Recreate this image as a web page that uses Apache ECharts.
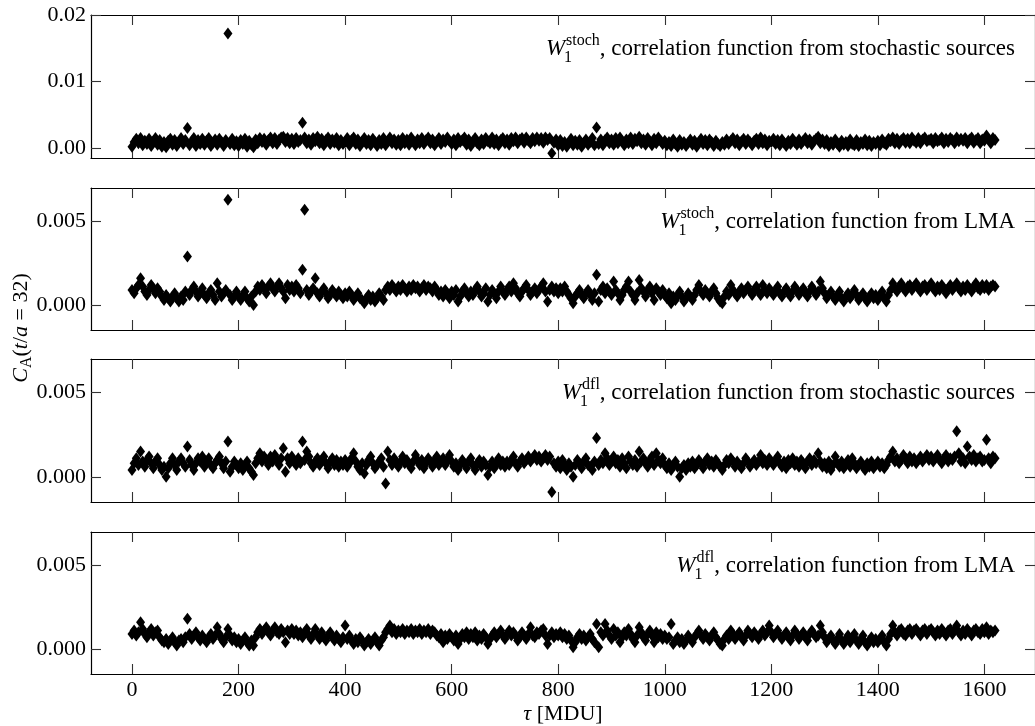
<!DOCTYPE html>
<html>
<head>
<meta charset="utf-8">
<script src="https://cdn.jsdelivr.net/npm/echarts@6/dist/echarts.min.js"></script>
<style>
  html, body { margin: 0; padding: 0; background: #fff; }
  #chart { width: 1035px; height: 726px; }
</style>
</head>
<body>
<div id="chart"></div>
<script>
// Pion correlator C_A(t/a = 32) along the Monte Carlo history.
// One value every 4 MDU, starting at tau = 0; values in units of 1e-4.
const tauStep = 4;

// W_1^stoch, correlation function from stochastic sources
const srcStoch = [
  2,9,14,7,15, 4,11,6,14,3, 10,15,5,12,2, 9,1,11,14,5, 12,3,9,15,6,
  12,30,4,10,15, 3,12,6,14,5, 11,15,3,8,13, 5,14,9,3,12, 172,6,14,4,10,
  3,12,6,14,2, 11,5,1,13,7, 15,9,14,5,12, 16,7,15,6,13, 16,17,9,15,7,
  14,6,15,9,12, 38,16,7,13,5, 15,10,17,7,14, 4,12,16,6,13, 8,15,4,12,6,
  9,15,4,12,16, 6,13,3,10,15, 6,12,4,14,9, 3,12,6,15,4, 10,16,7,13,5,
  12,4,15,7,13, 5,16,10,4,13, 7,15,6,12,16, 7,13,4,10,15, 6,13,9,16,10,
  6,13,4,15,9, 12,16,5,13,3, 10,15,7,4,13, 6,15,10,7,16, 6,13,4,12,15,
  7,13,5,15,10, 16,7,13,15,8, 16,11,7,15,10, 16,11,15,8,16, 12,15,-8,8,13,
  4,12,3,9,2, 8,14,4,11,5, 12,2,8,13,5, 9,15,4,31,6, 13,4,12,16,7,
  13,5,15,7,16, 10,4,13,7,16, 6,14,10,17,7, 13,5,15,10,4, 14,7,16,11,6,
  11,4,9,3,13, 6,2,12,5,9, 3,8,13,5,11, 2,9,14,6,12, 4,13,9,3,11,
  6,3,9,5,13, 6,11,15,7,13, 4,10,14,6,13, 9,4,11,14,6, 16,7,13,4,11,
  9,14,6,12,4, 13,8,3,11,6, 14,9,5,13,6, 11,15,7,13,5, 11,14,17,7,13,
  6,12,3,9,5, 13,6,2,11,5, 9,3,13,6,4, 12,3,9,6,13, 4,11,3,9,6,
  11,4,13,7,5, 14,10,16,7,14, 6,12,15,8,14, 7,16,11,8,15, 7,13,16,10,12,
  14,7,15,10,12, 16,7,14,9,15, 12,7,16,10,14, 11,15,7,13,16, 8,12,15,7,13,
  11,19,13,7,15,12
];

// W_1^stoch, correlation function from LMA
const lmaStoch = [
  9,7,10,12,16, 11,8,6,9,12, 10,7,10,8,5, 3,6,4,2,5, 7,4,2,5,3,
  8,29,6,9,11, 8,5,7,10,6, 4,7,9,6,3, 13,8,5,7,9, 63,6,3,5,8,
  5,3,6,8,4, 2,5,0,8,11, 9,12,10,7,11, 13,10,8,11,13, 10,8,4,12,9,
  11,8,12,10,7, 21,57,9,6,8, 10,16,7,5,8, 10,7,4,6,9, 7,5,8,6,4,
  7,5,8,6,3, 5,7,4,3,1, 4,6,3,5,2, 4,7,5,3,9, 11,9,12,10,8,
  11,9,12,10,8, 11,9,12,10,11, 8,10,12,9,11, 10,8,11,9,6, 8,5,9,7,4,
  8,6,9,2,5, 8,10,7,5,8, 6,9,11,8,5, 7,10,2,6,9, 7,4,8,11,8,
  6,9,11,8,13, 10,7,5,8,10, 12,9,6,8,10, 7,9,11,13,8, 2,9,11,8,10,
  7,10,8,11,8, 6,4,1,5,7, 9,6,4,7,9, 6,3,7,18,2, 9,11,7,10,8,
  6,14,9,7,3, 6,9,11,14,8, 6,3,7,15,10, 8,5,9,11,7, 3,10,8,6,9,
  6,4,7,1,5, 3,6,8,5,2, 4,7,5,3,6, 9,12,8,6,9, 7,5,8,10,7,
  4,2,1,5,8, 6,12,9,7,5, 8,10,7,9,11, 8,6,9,11,8, 6,12,9,7,10,
  8,6,9,11,7, 5,8,10,7,5, 8,11,9,6,8, 10,7,5,8,11, 9,6,8,14,10,
  7,4,6,8,5, 3,6,8,4,2, 5,7,4,6,9, 6,3,5,7,4, 2,5,7,4,6,
  3,6,8,4,2, 6,9,13,10,8, 11,13,10,8,11, 12,9,11,13,10, 8,11,12,9,11,
  13,10,8,11,9, 12,10,7,10,12, 9,11,13,10,8, 11,9,12,10,8, 11,13,10,9,12,
  10,12,9,11,12,11
];

// W_1^dfl, correlation function from stochastic sources
const srcDfl = [
  4,8,11,7,15, 9,6,10,12,8, 5,9,11,7,4, 6,0,5,8,11, 7,4,9,11,8,
  6,18,10,7,4, 8,11,9,12,6, 9,11,7,5,8, 10,12,8,5,9, 21,3,6,9,7,
  5,8,4,7,9, 5,3,1,8,11, 14,9,12,10,7, 12,9,13,10,7, 11,17,3,11,8,
  12,9,7,11,8, 21,10,15,12,8, 6,9,11,7,10, 12,8,5,9,11, 7,10,6,9,7,
  10,6,8,11,14, 9,6,4,8,2, 7,10,12,8,5, 7,9,11,6,-4, 15,10,7,11,8,
  6,9,12,8,10, 7,5,9,13,10, 7,10,5,8,11, 9,6,10,12,7, 9,11,7,10,13,
  9,6,8,4,7, 10,8,5,9,11, 7,4,8,10,6, 9,7,1,6,9, 5,8,11,7,9,
  6,9,7,10,12, 8,6,9,11,8, 10,12,9,11,13, 10,12,9,11,13, 10,12,-9,8,6,
  9,5,10,7,4, 8,6,0,7,10, 8,5,9,11,7, 6,4,9,23,7, 10,8,14,11,7,
  9,12,8,10,6, 11,8,5,12,9, 7,10,6,15,9, 11,8,6,10,12, 7,14,10,8,11,
  7,5,8,4,7, 9,6,0,5,7, 4,8,6,9,5, 7,10,8,5,9, 11,7,9,6,10,
  8,6,4,7,10, 8,11,9,6,9, 7,5,8,11,9, 6,8,10,7,9, 13,8,10,7,11,
  9,7,10,12,8, 6,9,5,10,8, 11,7,9,6,10, 8,5,9,11,7, 10,8,14,9,6,
  8,5,9,4,7, 12,8,6,9,5, 7,10,6,11,8, 5,7,9,6,4, 8,6,9,5,7,
  9,6,8,5,7, 10,12,15,9,11, 8,10,13,11,8, 12,9,11,8,10, 12,9,11,13,10,
  12,9,11,13,10, 8,11,13,9,11, 10,12,27,14,9, 11,8,18,12,10, 13,9,11,12,9,
  10,22,11,8,12,11
];

// W_1^dfl, correlation function from LMA
const lmaDfl = [
  9,11,8,10,16, 12,9,7,10,12, 8,10,11,7,5, 4,6,3,5,7, 4,2,5,6,4,
  7,18,9,6,8, 10,7,5,8,6, 4,7,9,6,8, 13,9,6,4,7, 12,8,5,7,4,
  6,3,5,7,4, 2,5,2,7,10, 12,9,11,13,10, 8,11,13,10,9, 12,10,4,11,9,
  12,9,11,8,10, 7,10,12,8,6, 9,12,8,6,10, 7,5,8,10,7, 5,8,6,4,7,
  14,6,8,5,3, 6,4,7,5,2, 4,6,3,5,7, 4,2,5,7,10, 12,14,10,12,9,
  11,10,12,9,11, 10,12,9,11,10, 12,9,11,10,12, 9,11,10,8,7, 9,4,8,6,9,
  7,5,8,3,6, 9,7,10,6,9, 7,10,5,8,6, 9,7,3,6,8, 10,7,9,11,8,
  6,9,11,8,10, 8,5,7,10,8, 6,9,13,8,7, 10,9,11,12,8, 3,8,10,7,9,
  8,10,7,9,6, 8,5,1,4,7, 9,6,8,5,7, 9,6,4,15,1, 10,8,15,11,8,
  6,12,8,10,4, 7,10,8,12,9, 6,4,8,13,10, 7,5,9,11,8, 4,10,7,9,6,
  8,6,7,15,3, 5,7,4,6,3, 5,8,6,4,7, 9,11,8,6,9, 7,5,8,10,7,
  5,3,2,6,8, 6,11,9,6,8, 10,7,5,8,11, 9,7,10,8,6, 9,11,8,10,14,
  10,7,9,11,8, 6,8,10,7,5, 8,11,9,6,8, 10,7,5,9,11, 9,7,8,14,10,
  7,4,6,8,5, 3,6,9,5,3, 6,8,4,7,9, 5,3,6,8,4, 2,5,7,4,6,
  4,6,8,4,2, 6,9,14,10,8, 11,12,9,8,11, 12,9,11,12,10, 8,11,12,9,11,
  12,10,8,11,9, 12,10,8,11,12, 9,11,14,10,8, 11,9,12,10,8, 11,12,10,9,12,
  10,13,9,11,10,11
];

const panelSeries = [srcStoch, lmaStoch, srcDfl, lmaDfl];
const panelSup = ['stoch', 'stoch', 'dfl', 'dfl'];
const panelText = [
  ', correlation function from stochastic sources',
  ', correlation function from LMA',
  ', correlation function from stochastic sources',
  ', correlation function from LMA'
];

// axis ticks (y values in units of 1e-4)
const xTicks = [0, 200, 400, 600, 800, 1000, 1200, 1400, 1600];
const yTicksFirst = [0, 100, 200];
const yTicksOther = [0, 50];

// layout
const FONT = '"Liberation Serif", "Times New Roman", serif';
const FS = 22, FS_CAP = 23, FS_SMALL = 16;
const plotLeft = 91, plotWidth = 945;
const tops = [15, 188, 359, 532];
const heights = [143, 142, 143, 142];
const yMin = -15;
const yMaxes = [200, 70, 70, 70];

const chart = echarts.init(document.getElementById('chart'), null, { renderer: 'canvas' });

const grids = [], xAxes = [], yAxes = [], series = [];
const spine = { show: true, onZero: false, lineStyle: { color: '#000', width: 1.2 } };
const tickStyle = { color: '#333', width: 1.1 };

panelSeries.forEach((vals, i) => {
  grids.push({ left: plotLeft, top: tops[i], width: plotWidth, height: heights[i] });
  const last = i === panelSeries.length - 1;
  ['bottom', 'top'].forEach(pos => {
    xAxes.push({
      type: 'value', gridIndex: i, position: pos, min: -77, max: 1695,
      axisLine: spine,
      axisTick: { show: true, inside: true, length: 10, customValues: xTicks, lineStyle: tickStyle },
      axisLabel: {
        show: last && pos === 'bottom', customValues: xTicks, margin: 5,
        fontFamily: FONT, fontSize: FS, color: '#000',
        formatter: v => String(v)
      },
      splitLine: { show: false }
    });
  });
  const yt = i === 0 ? yTicksFirst : yTicksOther;
  const digits = i === 0 ? 2 : 3;
  ['left', 'right'].forEach(pos => {
    yAxes.push({
      type: 'value', gridIndex: i, position: pos, min: yMin, max: yMaxes[i],
      axisLine: spine,
      axisTick: { show: true, inside: true, length: 10, customValues: yt, lineStyle: tickStyle },
      axisLabel: {
        show: pos === 'left', customValues: yt, margin: 5,
        fontFamily: FONT, fontSize: FS, color: '#000',
        formatter: v => (v * 1e-4).toFixed(digits)
      },
      splitLine: { show: false }
    });
  });
  series.push({
    type: 'scatter', xAxisIndex: 2 * i, yAxisIndex: 2 * i,
    symbol: 'diamond', symbolSize: [9, 12],
    itemStyle: { color: '#000', opacity: 1 },
    silent: true,
    data: vals.map((v, k) => [k * tauStep, v])
  });
});

// text helpers
const mctx = document.createElement('canvas').getContext('2d');
function fontStr(size, italic) { return (italic ? 'italic ' : '') + size + 'px ' + FONT; }
function measure(text, size, italic) { mctx.font = fontStr(size, italic); return mctx.measureText(text).width; }
function txt(text, x, y, size, italic) {
  return {
    type: 'text', x: x, y: y, silent: true, z: 100,
    style: {
      text: text, fill: '#000', font: fontStr(size, italic),
      align: 'left', verticalAlign: 'middle', textAlign: 'left', textVerticalAlign: 'middle'
    }
  };
}

const graphics = [];

// panel captions, right-aligned inside each panel
panelSeries.forEach((_, i) => {
  const base = tops[i] + 42;          // baseline of the caption
  const right = 1015;
  const wW = measure('W', FS_CAP, true);
  const wScript = Math.max(measure(panelSup[i], FS_SMALL, false), measure('1', FS_SMALL, false));
  const wRest = measure(panelText[i], FS_CAP, false);
  const x0 = right - (wW + 1 + wScript + wRest);
  graphics.push(txt('W', x0, base - 8, FS_CAP, true));
  graphics.push(txt(panelSup[i], x0 + wW + 1, base - 16, FS_SMALL, false));
  graphics.push(txt('1', x0 + wW - 1, base + 1, FS_SMALL, false));
  graphics.push(txt(panelText[i], x0 + wW + 1 + wScript, base - 8, FS_CAP, false));
});

// y axis title: C_A(t/a = 32), reading bottom to top
(function () {
  const parts = [
    ['C', FS, true, 0], ['A', FS_SMALL, false, 6], ['(', FS, false, 0], ['t', FS, true, 0],
    ['/', FS, false, 0], ['a', FS, true, 0], [' = 32)', FS, false, 0]
  ];
  const widths = parts.map(p => measure(p[0], p[1], p[2]));
  const total = widths.reduce((a, b) => a + b, 0);
  let x = -total / 2;
  const kids = [];
  parts.forEach((p, k) => {
    kids.push(txt(p[0], x, p[3], p[1], p[2]));
    x += widths[k];
  });
  graphics.push({ type: 'group', x: 21, y: 328, rotation: Math.PI / 2, children: kids });
})();

// x axis title: tau [MDU]
(function () {
  const parts = [['\u03c4', FS, true], [' [MDU]', FS, false]];
  const widths = parts.map(p => measure(p[0], p[1], p[2]));
  const total = widths.reduce((a, b) => a + b, 0);
  let x = 563 - total / 2;
  parts.forEach((p, k) => {
    graphics.push(txt(p[0], x, 714, p[1], p[2]));
    x += widths[k];
  });
})();

chart.setOption({
  animation: false,
  backgroundColor: '#fff',
  grid: grids,
  xAxis: xAxes,
  yAxis: yAxes,
  series: series,
  graphic: graphics
});
</script>
</body>
</html>
